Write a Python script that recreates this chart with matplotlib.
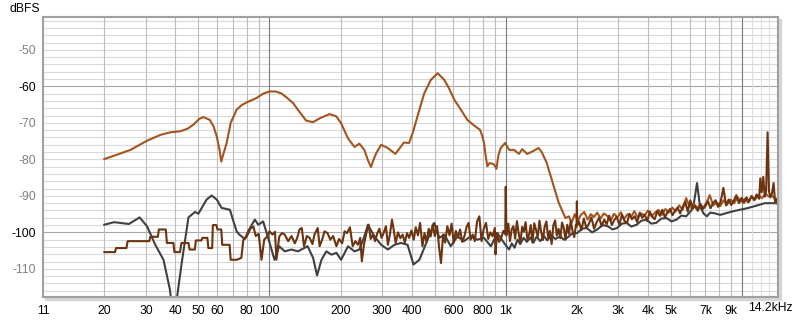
import numpy as np
import matplotlib
matplotlib.use("Agg")
import matplotlib.pyplot as plt
from matplotlib.patches import Rectangle

plt.rcParams['font.family'] = ['Liberation Sans', 'DejaVu Sans']

# --- odpowiedz glowna (pomaranczowa) ---
f_orange = [20, 22, 25.8, 30.3, 34.5, 38, 41.9, 45, 47.6, 50.5, 52.5, 55.9, 58, 59.8, 61.5, 62.5,
            63.8, 65.9, 68.5, 72.6, 76, 80, 84, 88.1, 94, 100, 106, 112, 118, 125.9, 134, 143,
            152.7, 165, 179.6, 191.6, 201, 214.7, 229, 240, 252, 262, 269, 276, 283, 297, 317,
            341, 360, 370, 390, 405, 417, 435, 452, 482, 515, 549, 575, 606, 640, 688, 734, 778,
            795, 809, 822, 836, 855, 878, 895, 913, 930, 952, 994, 1033, 1084, 1137, 1174, 1231,
            1300, 1377, 1420, 1492, 1520, 1590, 1676, 1790,
            1850, 1900, 1960, 2020, 2080, 2150, 2220, 2290, 2360, 2440, 2520, 2600, 2690, 2780,
            2870, 2970, 3070, 3170, 3280, 3390, 3500, 3620, 3740, 3870, 4000, 4140, 4280, 4430,
            4580, 4740, 4900, 5070, 5240, 5420, 5610, 5800, 6000, 6200, 6420, 6640, 6870, 7100,
            7300, 7550, 7810, 8080, 8360, 8650, 8950, 9260, 9580, 9910, 10250, 10600, 10970,
            11350, 11740, 12150, 12570, 13000, 13450, 13900, 14200]
db_orange = [-79.9, -79.0, -77.4, -74.9, -73.3, -72.6, -72.3, -71.6, -70.5, -68.9, -68.4, -69.2,
             -71.0, -73.7, -77.5, -80.6, -78.5, -75.5, -70.0, -66.4, -65.2, -64.4, -63.8, -63.2,
             -62.0, -61.4, -61.4, -61.9, -63.0, -64.6, -67.0, -69.4, -69.8, -68.6, -67.6, -68.2,
             -70.1, -74.2, -76.6, -75.7, -77.4, -80.5, -82.1, -80.0, -78.3, -76.0, -76.9, -78.5,
             -76.5, -75.4, -75.5, -72.5, -69.6, -65.5, -61.9, -58.2, -56.4, -58.2, -60.5, -63.7,
             -66.0, -69.2, -70.7, -71.9, -73.5, -75.5, -79.0, -81.9, -81.0, -81.2, -81.5, -82.6,
             -79.0, -76.9, -75.5, -77.4, -77.4, -78.5, -77.2, -78.5, -77.8, -76.9, -78.0, -81.0,
             -82.8, -87.0, -91.9, -96.1,
             -95.6, -97.4, -95.0, -96.8, -95.2, -94.4, -96.5, -95.0, -95.8, -94.6, -96.2, -94.8,
             -95.5, -96.8, -94.9, -95.9, -94.5, -96.3, -95.0, -95.8, -94.2, -96.0, -94.8, -95.4,
             -94.0, -95.6, -94.6, -93.8, -95.2, -93.6, -94.6, -93.2, -94.3, -92.6, -93.8, -90.6,
             -93.0, -92.2, -93.6, -92.4, -93.2, -91.6, -89.8, -92.6, -91.8, -92.8, -91.2, -92.4,
             -91.0, -92.0, -90.4, -91.6, -90.8, -91.8, -90.2, -91.0, -89.8, -90.6, -89.4, -90.2,
             -90.0, -91.2, -91.8]

# --- szum tla (szary) ---
f_grey = [20, 22, 25.4, 28.2, 30.3, 32.8, 35.6, 37.9, 39.3, 40.5, 42.5, 45.4, 48.4, 50, 54.2,
          56.9, 59.8, 62.7, 68, 70, 72.6, 74.5, 78.7, 81.5, 86.7, 89.6, 94, 98.7, 105, 110, 116,
          124, 132, 145, 153, 159, 166, 174, 183, 192, 201, 215, 229, 240, 252, 261, 278, 297,
          317, 338, 360, 384, 407, 431, 467, 498, 524, 550, 585, 624, 665, 710, 758, 809, 865,
          922, 984, 1033, 1060, 1090, 1120, 1150, 1190, 1230, 1270, 1310, 1350, 1400, 1450,
          1500, 1560, 1620, 1705, 1760, 1820, 1900, 2005, 2100, 2200, 2320, 2440, 2570, 2700,
          2830, 2960, 3100, 3250, 3400, 3580, 3750, 3940, 4130, 4330, 4560, 4800, 5030, 5280,
          5540, 5800, 6100, 6240, 6450, 6640, 6870, 7100, 7330, 7560, 8100, 8600, 9200, 9800,
          10500, 11200, 12500, 14200]
db_grey = [-97.9, -97.2, -97.7, -95.9, -98.3, -103.3, -107.5, -115.7, -125.0, -118.4, -108.4,
           -95.9, -94.4, -94.9, -91.0, -89.9, -91.0, -93.3, -93.8, -96.5, -99.7, -100.6, -101.8,
           -99.5, -96.5, -97.9, -97.0, -101.5, -107.5, -103.8, -105.2, -104.7, -105.2, -103.8,
           -107.0, -111.8, -107.5, -105.2, -106.1, -105.6, -107.5, -103.8, -105.2, -104.7,
           -101.1, -97.9, -101.1, -103.4, -104.7, -103.4, -102.9, -103.4, -108.8, -107.5,
           -102.0, -97.4, -101.5, -100.6, -103.8, -101.1, -102.4, -101.1, -102.0, -101.5,
           -103.8, -100.2, -102.9, -104.7, -103.0, -104.2, -102.0, -103.2, -101.5, -102.6,
           -101.4, -102.8, -101.2, -102.4, -101.0, -102.2, -100.8, -101.8, -101.1, -102.0,
           -101.5, -100.4, -100.2, -99.0, -98.8, -100.0, -99.2, -98.0, -98.3, -99.2, -98.8,
           -97.6, -97.4, -98.4, -97.9, -96.8, -96.5, -97.6, -97.4, -96.2, -96.1, -97.0, -96.5,
           -95.4, -95.6, -94.0, -92.4, -86.5, -92.9, -94.8, -95.6, -94.6, -94.7, -95.2, -94.7,
           -94.2, -93.8, -93.4, -92.9, -92.0, -92.0]

# --- pomiar szumu (brazowy) ---
f_brown = [20, 22.2, 22.4, 24.8, 25.1, 31.0, 31.3, 33.7, 34.0, 36.4, 36.8, 39.2, 39.6, 41.8,
           42.4, 45.4, 45.9, 48.3, 48.8, 51.5, 52.0, 54.6, 55.1, 57.2, 57.6, 59.6, 60.2, 62.5,
           63.1, 67.8, 68.5, 72.5, 76, 77.5, 80, 83, 85.5, 87.5, 90, 92.5, 95, 97.5, 100, 103,
           105.5, 107, 110, 113, 116, 120, 124, 128, 131, 134, 137, 140, 144, 148, 152, 155, 160,
           163, 167, 171, 176, 181, 186, 192, 197, 203, 208, 213, 219, 225, 231, 237, 242, 246,
           251, 257, 263, 268, 274, 280, 286, 292, 298, 304, 311, 317, 323, 330, 336, 342, 350,
           358, 366, 374, 382, 390, 399, 408, 416, 425, 434, 444, 453, 462, 472, 481, 491, 501,
           512, 522, 532, 543, 554, 566, 578, 590, 602, 615, 628, 641, 654, 668, 682, 696, 710,
           725, 740, 756, 773, 790, 807, 825, 843, 861, 880, 899, 905, 918, 937, 957, 977, 995,
           1000,
           1006, 1025, 1042, 1060, 1078, 1096, 1115, 1134, 1153, 1173, 1193, 1213, 1234, 1255,
           1276, 1298, 1320, 1343, 1366, 1389, 1413, 1437, 1461, 1486, 1512, 1537, 1564, 1590,
           1618, 1645, 1673, 1702, 1731, 1760, 1790, 1821, 1852, 1884, 1916, 1949, 1982,
           1993, 2000, 2008,
           2040, 2090, 2140, 2195, 2250, 2305, 2365, 2425, 2485, 2545, 2610, 2675, 2740, 2810,
           2880, 2950, 3025, 3100, 3180, 3260, 3340, 3420, 3510, 3600, 3690, 3780, 3870, 3970,
           4070, 4170, 4270, 4380, 4490, 4600, 4720, 4840, 4960, 5080, 5210, 5340, 5470, 5610,
           5750, 5890, 6040, 6190, 6340, 6500, 6670, 6830, 7000, 7180, 7360, 7540, 7730, 7920,
           8120, 8340, 8560, 8780, 9000, 9230, 9460, 9700, 9940, 10190, 10450, 10710, 10980,
           11250, 11530, 11820, 11950, 12120, 12300, 12480, 12650, 12830, 13010, 13200, 13400,
           13600, 13800, 14000, 14200]
db_brown = [-105.4, -105.4, -104.3, -104.3, -102.4, -102.4, -101.2, -101.2, -99.2, -99.2,
            -102.9, -102.9, -105.4, -105.4, -102.9, -102.9, -104.7, -104.7, -102.2, -102.2,
            -101.5, -101.5, -104.3, -104.3, -98.0, -98.0, -99.2, -99.2, -103.4, -103.4, -107.5,
            -107.5, -107.0, -102.0, -101.2, -99.0, -98.4, -101.0, -100.4, -107.5, -102.0,
            -101.2, -99.7, -100.6, -99.8, -107.5, -101.1, -100.2, -100.6, -102.4, -101.0,
            -103.0, -101.5, -99.2, -98.8, -103.8, -101.0, -101.5, -103.2, -100.6, -98.8,
            -103.8, -102.0, -99.7, -100.2, -102.0, -101.0, -103.8, -101.8, -103.0, -99.7,
            -100.2, -98.6, -103.8, -102.4, -103.4, -101.5, -107.9, -103.4, -100.2, -97.9,
            -101.8, -100.6, -102.4, -100.2, -99.0, -101.5, -100.2, -98.3, -103.4, -100.8,
            -96.5, -99.5, -102.9, -100.0, -101.6, -100.6, -102.8, -100.2, -101.5, -99.5,
            -102.0, -98.6, -100.8, -97.4, -103.8, -100.2, -102.6, -99.0, -101.1, -97.8,
            -101.0, -98.3, -104.0, -108.4, -100.6, -102.8, -98.3, -100.8, -97.6, -102.9,
            -99.6, -101.4, -99.2, -102.6, -101.1, -98.6, -97.4, -102.0, -100.6, -102.4, -97.0,
            -95.6, -102.4, -99.0, -97.4, -101.8, -100.0, -101.1, -98.8, -106.0, -100.2, -102.6,
            -101.5, -99.6, -100.5,
            -87.5,
            -100.8, -97.6, -102.4, -99.1, -98.3, -101.7, -96.9, -100.2, -103.0, -98.5,
            -99.8, -97.2, -101.9, -100.6, -98.0, -102.8, -97.5, -99.3, -101.2, -96.8,
            -100.0, -102.1, -98.4, -97.0, -101.5, -99.6, -103.2, -98.1, -96.7, -100.9,
            -99.0, -101.6, -97.3, -98.8, -102.0, -97.9, -100.4, -96.9, -99.5, -101.3, -98.0,
            -98.4, -91.5, -98.0,
            -97.0, -99.4, -96.2, -98.8, -97.6, -95.9, -99.0, -97.2, -96.0, -98.3,
            -96.5, -97.8, -95.4, -98.0, -96.6, -95.8, -97.9, -95.2, -96.8, -97.5,
            -94.9, -96.4, -95.6, -97.2, -94.6, -96.0, -95.1, -96.9, -94.3, -95.7,
            -96.4, -94.2, -95.5, -93.8, -95.9, -94.4, -93.6, -95.3, -94.0, -93.2,
            -94.8, -93.0, -91.6, -94.3, -91.2, -93.5, -92.6, -94.1, -92.2, -93.6,
            -92.8, -91.5, -93.4, -92.0, -91.2, -93.0, -91.6, -87.8, -92.6, -91.0,
            -92.5, -91.3, -89.8, -92.0, -90.6, -91.9, -90.4, -91.6, -90.0, -91.2,
            -89.6, -90.8, -85.2, -89.0, -84.8, -90.2, -88.6, -72.6, -88.8, -90.4,
            -89.2, -86.5, -91.6, -90.8, -92.6]

xtick_vals = [11, 20, 30, 40, 50, 60, 80, 100, 200, 300, 400, 600, 800, 1000, 2000, 3000,
              4000, 5000, 7000, 9000]
xtick_labels = ['11', '20', '30', '40', '50', '60', '80', '100', '200', '300', '400', '600',
                '800', '1k', '2k', '3k', '4k', '5k', '7k', '9k']
ytick_vals = [-50, -60, -70, -80, -90, -100, -110]

fig = plt.figure(figsize=(8, 3.21), dpi=100)
fig.patch.set_facecolor('white')
ax = fig.add_axes([43 / 800, 24 / 321, 735 / 800, 280 / 321])
ax.set_zorder(2)
ax.set_facecolor('white')

# cien ramki
fig.patches.append(Rectangle((45 / 800, 21 / 321), 736 / 800, 281 / 321,
                             transform=fig.transFigure, color='#d6d6d6', zorder=0))

ax.set_xscale('log')
ax.set_xlim(11, 14200)
ax.set_ylim(-117.7, -41)

# siatka
for y in range(-116, -41, 2):
    c = '#a6a6a6' if y in (-60, -100) else '#d9d9d9'
    ax.axhline(y, color=c, lw=0.8, zorder=1)
for d in (10, 100, 1000):
    for m in range(2, 10):
        ax.axvline(m * d, color='#bdbdbd', lw=0.8, zorder=1)
for f in (100, 1000, 10000):
    ax.axvline(f, color='#7a7a7a', lw=0.8, zorder=1)
for f in (11000, 12000, 13000, 14000):
    ax.axvline(f, color='#dddddd', lw=0.8, zorder=1)

ax.plot(f_grey, db_grey, color='#404040', lw=1.5, zorder=3)
ax.plot(f_orange, db_orange, color='#a3541f', lw=1.5, zorder=4)
ax.plot(f_brown, db_brown, color='#6b330f', lw=1.5, zorder=5)

ax.set_xticks(xtick_vals)
ax.set_xticklabels(xtick_labels)
ax.xaxis.set_minor_locator(matplotlib.ticker.NullLocator())
ax.set_yticks(ytick_vals)
ax.set_yticklabels([str(v) for v in ytick_vals])
for lab, v in zip(ax.get_yticklabels(), ytick_vals):
    lab.set_color('black' if v in (-60, -100) else '#808080')
ax.tick_params(axis='both', length=0, labelsize=8.7)
ax.tick_params(axis='x', pad=6)
ax.tick_params(axis='y', pad=5)

for s in ax.spines.values():
    s.set_color('#a0a0a0')
    s.set_linewidth(1.5)
    s.set_zorder(6)

fig.text(793 / 800, 13 / 321, '14.2kHz', ha='right', va='center', fontsize=8.7)
fig.text(10 / 800, 1 - 9 / 321, 'dBFS', ha='left', va='center', fontsize=8.7)

plt.savefig('out.png', dpi=100, facecolor='white')
